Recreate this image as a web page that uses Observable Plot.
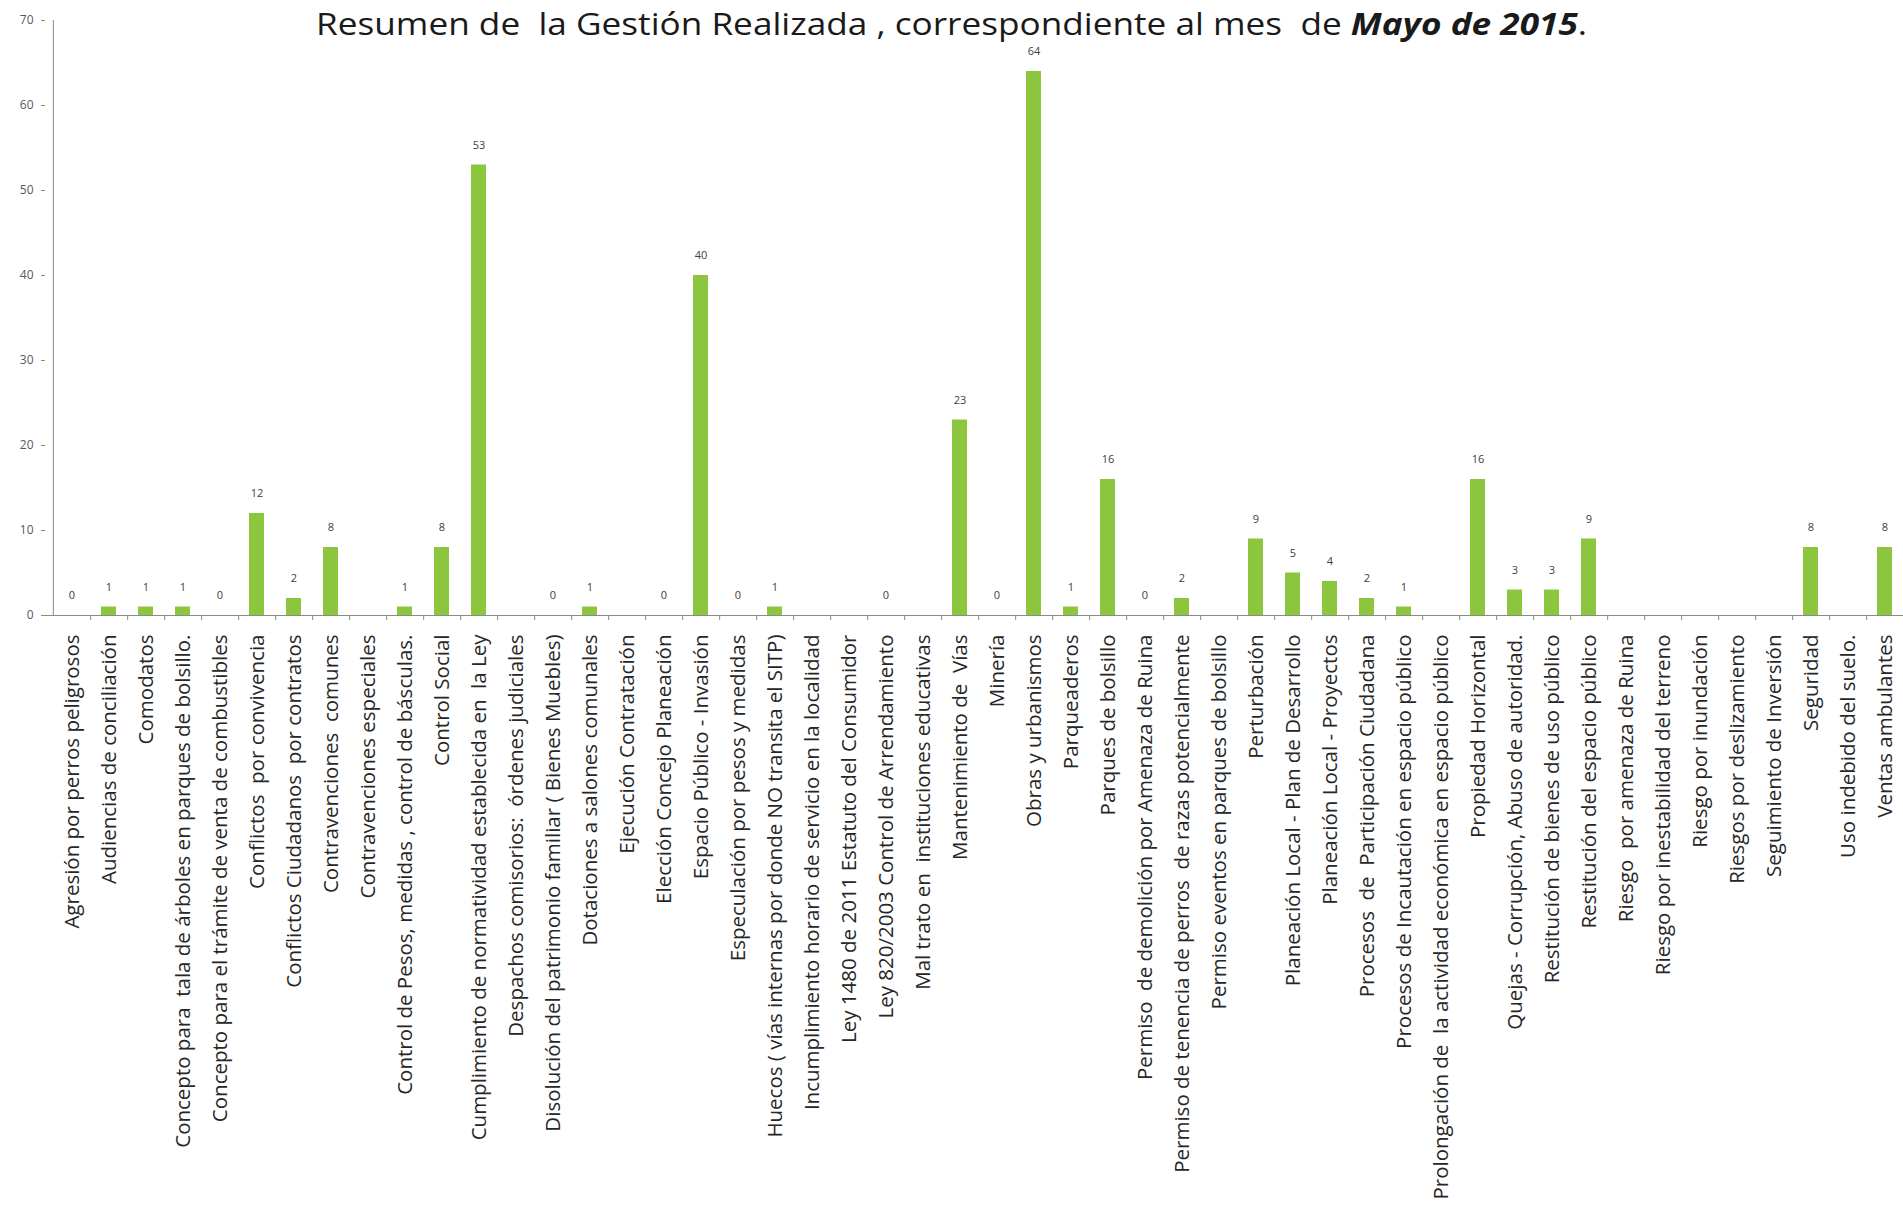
<!DOCTYPE html>
<html>
<head>
<meta charset="utf-8">
<script src="https://cdn.jsdelivr.net/npm/d3@7"></script>
<script src="https://cdn.jsdelivr.net/npm/@observablehq/plot@0.6"></script>
<style>
  html, body { margin: 0; padding: 0; background: #fff; overflow: hidden; }
  #wrap { position: relative; width: 1903px; height: 1215px; }
  #title { position: absolute; top: 5px; left: 0; width: 1903px; text-align: center;
           font-family: "Open Sans", sans-serif; font-size: 31px; color: #1a1a1a; white-space: pre; line-height: 1.2;
           transform: scaleX(1.135); transform-origin: 951px 0; }
  #title b { font-style: italic; font-weight: 700; }
  svg text { white-space: pre; }
</style>
</head>
<body>
<div id="wrap">
  <div id="chart"></div>
  <div id="title">Resumen de  la Gestión Realizada , correspondiente al mes  de <b>Mayo de 2015</b>.</div>
</div>
<script>
const categories = [
  "Agresión por perros peligrosos",
  "Audiencias de conciliación",
  "Comodatos",
  "Concepto para  tala de árboles en parques de bolsillo.",
  "Concepto para el trámite de venta de combustibles",
  "Conflictos  por convivencia",
  "Conflictos Ciudadanos  por contratos",
  "Contravenciones  comunes",
  "Contravenciones especiales",
  "Control de Pesos, medidas , control de básculas.",
  "Control Social",
  "Cumplimiento de normatividad establecida en  la Ley",
  "Despachos comisorios:  órdenes judiciales",
  "Disolución del patrimonio familiar ( Bienes Muebles)",
  "Dotaciones a salones comunales",
  "Ejecución Contratación",
  "Elección Concejo Planeación",
  "Espacio Público - Invasión",
  "Especulación por pesos y medidas",
  "Huecos ( vías internas por donde NO transita el SITP)",
  "Incumplimiento horario de servicio en la localidad",
  "Ley 1480 de 2011 Estatuto del Consumidor",
  "Ley 820/2003 Control de Arrendamiento",
  "Mal trato en  instituciones educativas",
  "Mantenimiento de  Vías",
  "Minería",
  "Obras y urbanismos",
  "Parqueaderos",
  "Parques de bolsillo",
  "Permiso  de demolición por Amenaza de Ruina",
  "Permiso de tenencia de perros  de razas potencialmente",
  "Permiso eventos en parques de bolsillo",
  "Perturbación",
  "Planeación Local - Plan de Desarrollo",
  "Planeación Local - Proyectos",
  "Procesos  de  Participación Ciudadana",
  "Procesos de Incautación en espacio público",
  "Prolongación de  la actividad económica en espacio público",
  "Propiedad Horizontal",
  "Quejas - Corrupción, Abuso de autoridad.",
  "Restitución de bienes de uso público",
  "Restitución del espacio público",
  "Riesgo  por amenaza de Ruina",
  "Riesgo por inestabilidad del terreno",
  "Riesgo por inundación",
  "Riesgos por deslizamiento",
  "Seguimiento de Inversión",
  "Seguridad",
  "Uso indebido del suelo.",
  "Ventas ambulantes"
];
// null = no value recorded (no bar, no label)
const values = [
  0, 1, 1, 1, 0, 12, 2, 8, null, 1,
  8, 53, null, 0, 1, null, 0, 40, 0, 1,
  null, null, 0, null, 23, 0, 64, 1, 16, 0,
  2, null, 9, 5, 4, 2, 1, null, 16, 3,
  3, 9, null, null, null, null, null, 8, null, 8
];
const yTicks = [0, 10, 20, 30, 40, 50, 60, 70];

const data = categories.map((c, i) => ({cat: c, val: values[i]}));
const labeled = data.filter(d => d.val !== null);

const W = 1903, H = 1215, ML = 45, MR = -7;
const step = (W - ML - MR) / categories.length;
const axisGray = "#8a8a8a";

const chart = Plot.plot({
  width: W, height: H,
  marginTop: 20, marginBottom: 600, marginLeft: ML, marginRight: MR,
  style: {fontFamily: "Open Sans, sans-serif", background: "transparent", overflow: "visible"},
  x: {domain: categories, paddingInner: 0.6, paddingOuter: 0.3, label: null, axis: null},
  y: {domain: [0, 70], label: null, axis: null},
  marks: [
    Plot.barY(labeled, {x: "cat", y: "val", fill: "#8cc63f"}),
    Plot.text(labeled, {x: "cat", y: "val", text: d => String(d.val), dy: -20, fontSize: 11, fill: "#404040"}),
    Plot.ruleY([0], {stroke: axisGray}),
    Plot.ruleX([categories[0]], {y1: 0, y2: 70, dx: -step / 2, stroke: axisGray}),
    Plot.axisY({ticks: yTicks, tickSize: 4, tickPadding: 8, fontSize: 12, color: "#595959", stroke: axisGray, label: null}),
    Plot.axisX({tickSize: 5, text: null, dx: step / 2, stroke: axisGray, label: null}),
    Plot.axisX({tickSize: 0, tickRotate: -90, tickPadding: 19, fontSize: 20.5, fill: "#262626", label: null})
  ]
});
document.getElementById("chart").appendChild(chart);
</script>
</body>
</html>
